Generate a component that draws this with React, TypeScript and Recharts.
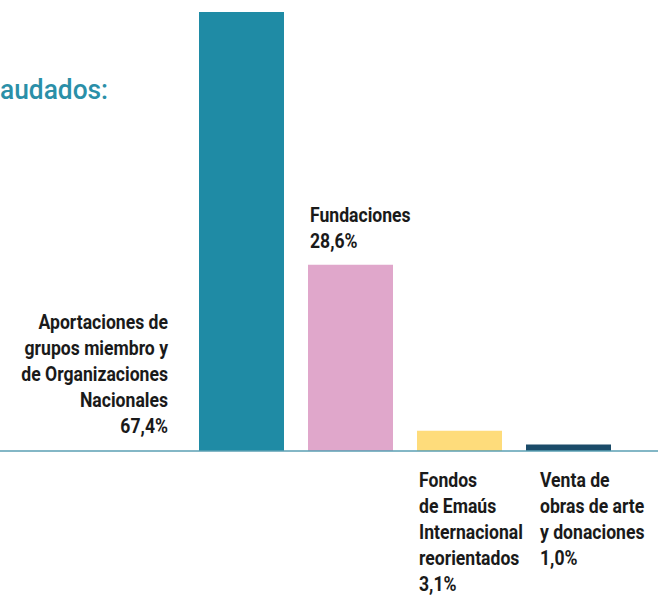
import { BarChart, Bar, XAxis, YAxis, Cell, LabelList, ReferenceLine } from 'recharts';

// Fondos recaudados, share of total (%)
const categories = ['Aportaciones', 'Fundaciones', 'Fondos Emaús', 'Venta obras'];
const shares = [67.4, 28.6, 3.1, 1.0];
const shareLabels = ['67,4%', '28,6%', '3,1%', '1,0%'];
const labelLines = [
  ['Aportaciones de', 'grupos miembro y', 'de Organizaciones', 'Nacionales'],
  ['Fundaciones'],
  ['Fondos', 'de Emaús', 'Internacional', 'reorientados'],
  ['Venta de', 'obras de arte', 'y donaciones'],
];
const colors = ['#1f8ba5', '#e0a7cb', '#fedc7b', '#1b4b69'];

const data = categories.map((name, i) => ({ name, value: shares[i] }));

const FONT = 'Roboto, "Noto Sans", sans-serif';
const LINE = 26;
const SQUEEZE = 0.88;

const BarLabel = (props: any) => {
  const { x, y, height, index } = props;
  const lines = [...labelLines[index], shareLabels[index]];
  const base = y + height;
  let tx = x + 2;
  let firstY = 0;
  let anchor = 'start';
  if (index === 0) {
    tx = x - 31;
    anchor = 'end';
    firstY = base - 18 - LINE * (lines.length - 1);
  } else if (index === 1) {
    firstY = y - 17 - LINE * (lines.length - 1);
  } else {
    tx = index === 3 ? x + 14 : x + 2;
    firstY = base + 36;
  }
  return (
    <text
      x={tx}
      y={firstY}
      textAnchor={anchor}
      transform={`translate(${tx} 0) scale(${SQUEEZE} 1) translate(${-tx} 0)`}
      fontFamily={FONT}
      fontSize={20}
      fontWeight={700}
      fill="#1a1a1a"
    >
      {lines.map((l, i) => (
        <tspan key={i} x={tx} y={firstY + i * LINE}>
          {l}
        </tspan>
      ))}
    </text>
  );
};

const FullLine = (props: any) => (
  <line x1={0} x2={658} y1={props.y1} y2={props.y1} stroke="#5a9fb3" strokeWidth={1.5} />
);

export default function App() {
  return (
    <div style={{ position: 'absolute', left: 0, top: 0, width: 658, height: 597, background: '#fff' }}>
      <svg
        width={658}
        height={597}
        style={{ position: 'absolute', left: 0, top: 0, pointerEvents: 'none' }}
      >
        <text
          x={0}
          y={99}
          transform="scale(0.94 1)"
          fontFamily={FONT}
          fontSize={28}
          fontWeight={500}
          fill="#2a8fa8"
        >
          audados:
        </text>
      </svg>
      <BarChart
        width={658}
        height={597}
        data={data}
        margin={{ top: 12, right: 35, left: 187, bottom: 146 }}
        style={{ position: 'absolute', left: 0, top: 0 }}
      >
        <XAxis dataKey="name" hide />
        <YAxis hide domain={[0, 67.4]} />
        <ReferenceLine y={0} shape={<FullLine />} ifOverflow="visible" />
        <Bar dataKey="value" barSize={85} isAnimationActive={false}>
          {data.map((d, i) => (
            <Cell key={d.name} fill={colors[i]} />
          ))}
          <LabelList dataKey="value" content={<BarLabel />} />
        </Bar>
      </BarChart>
    </div>
  );
}
